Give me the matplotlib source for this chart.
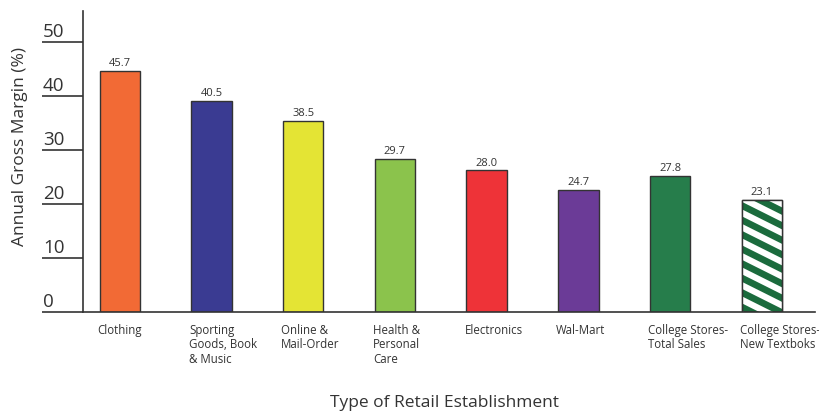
import matplotlib
matplotlib.use("Agg")
import matplotlib.pyplot as plt
from matplotlib.patches import Polygon
from matplotlib.transforms import blended_transform_factory

categories = ["Clothing", "Sporting\nGoods, Book\n& Music", "Online &\nMail-Order",
              "Health &\nPersonal\nCare", "Electronics", "Wal-Mart",
              "College Stores-\nTotal Sales", "College Stores-\nNew Textboks"]
bar_heights = [44.6, 39.1, 35.4, 28.3, 26.2, 22.6, 25.2, 20.7]
value_labels = ["45.7", "40.5", "38.5", "29.7", "28.0", "24.7", "27.8", "23.1"]
colors = ["#f26a35", "#3a3b92", "#e4e434", "#8bc34c", "#ee3338", "#6b3b97", "#267d4b", "#1b6b3d"]
yticks = [0, 10, 20, 30, 40, 50]

plt.rcParams['font.family'] = ['Open Sans', 'DejaVu Sans']

fig = plt.figure(figsize=(8.2, 4.14), dpi=100)
ax_w_px, ax_h_px = 815 - 83, 313 - 12
ax = fig.add_axes([83/820, 1 - 313/414, ax_w_px/820, ax_h_px/414])
xlim = (-0.40, 7.58)
ylim = (0, 55.7)
ax.set_xlim(*xlim)
ax.set_ylim(*ylim)
px_x = ax_w_px / (xlim[1] - xlim[0])
px_y = ax_h_px / (ylim[1] - ylim[0])

x = list(range(len(categories)))
w = 0.44
for i in x:
    bar = ax.bar(i, bar_heights[i], width=w, color=colors[i], edgecolor="#333333", linewidth=1.0)[0]
    if i == len(categories) - 1:
        # white diagonal stripes clipped to the bar
        k = -0.5 * px_x / px_y          # slope in data units
        period = 14.5 / px_y
        thick = 7.0 / px_y
        x0, x1 = i - w/2, i + w/2
        c = -abs(k) * w - period
        while c < bar_heights[i] + abs(k) * w + period:
            poly = Polygon([(x0, c), (x1, c + k*w), (x1, c + k*w + thick), (x0, c + thick)],
                           closed=True, facecolor="white", edgecolor="none", zorder=2.5)
            ax.add_patch(poly)
            poly.set_clip_path(bar)
            c += period
        ax.bar(i, bar_heights[i], width=w, fill=False, edgecolor="#333333", linewidth=1.0, zorder=3)
    ax.text(i, bar_heights[i] + 0.5, value_labels[i], ha="center", va="bottom",
            fontsize=8, color="#333333")
    ax.text(i - w/2 - 0.02, -2.0, categories[i], ha="left", va="top",
            fontsize=8.3, color="#333333", linespacing=1.15)

ax.set_xticks([])
ax.set_yticks(yticks)
ax.tick_params(axis="y", length=29.5, width=1.2, direction="out", labelleft=False, color="#333333")
for s in ["top", "right"]:
    ax.spines[s].set_visible(False)
for s in ["left", "bottom"]:
    ax.spines[s].set_linewidth(1.2)
    ax.spines[s].set_color("#333333")

trans = blended_transform_factory(fig.transFigure, ax.transData)
for t in yticks:
    ax.text(43/820, t + 0.4, str(t), transform=trans, ha="left", va="bottom",
            fontsize=13.5, color="#333333")

fig.text(20/820, 1 - 146/414, "Annual Gross Margin (%)", rotation=90, ha="center", va="center",
         fontsize=12.5, color="#333333")
fig.text(445/820, 1 - 403/414, "Type of Retail Establishment", ha="center", va="center",
         fontsize=12.5, color="#333333")

fig.savefig("out.png", dpi=100)
